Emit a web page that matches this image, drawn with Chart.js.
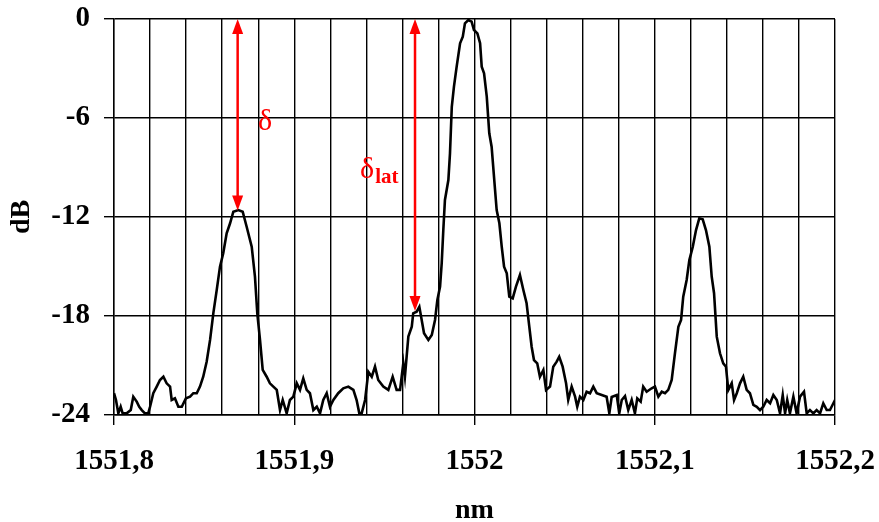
<!DOCTYPE html>
<html>
<head>
<meta charset="utf-8">
<title>Spectre</title>
<script src="https://cdn.jsdelivr.net/npm/chart.js@4.4.1/dist/chart.umd.min.js"></script>
<style>
    body { margin: 0; background: #fff; }
    #wrap { width: 879px; height: 522px; }
</style>
</head>
<body>
<div id="wrap"><canvas id="spectre" width="879" height="522"></canvas></div>
<script>
// longueur d'onde (nm)
const wavelengths = [
    1551.8000, 1551.8011, 1551.8024, 1551.8037, 1551.8048, 1551.8070, 1551.8093, 1551.8107, 1551.8126, 1551.8140,
    1551.8154, 1551.8172, 1551.8190, 1551.8200, 1551.8218, 1551.8237, 1551.8255, 1551.8274, 1551.8292, 1551.8311,
    1551.8320, 1551.8338, 1551.8357, 1551.8376, 1551.8399, 1551.8422, 1551.8440, 1551.8459, 1551.8477, 1551.8495,
    1551.8514, 1551.8533, 1551.8551, 1551.8570, 1551.8588, 1551.8606, 1551.8625, 1551.8644, 1551.8662, 1551.8690,
    1551.8714, 1551.8736, 1551.8764, 1551.8782, 1551.8795, 1551.8810, 1551.8825, 1551.8847, 1551.8865, 1551.8884,
    1551.8903, 1551.8921, 1551.8936, 1551.8958, 1551.8976, 1551.8995, 1551.9014, 1551.9032, 1551.9050, 1551.9069,
    1551.9087, 1551.9106, 1551.9125, 1551.9143, 1551.9161, 1551.9180, 1551.9198, 1551.9217, 1551.9244, 1551.9272,
    1551.9300, 1551.9328, 1551.9346, 1551.9361, 1551.9374, 1551.9393, 1551.9411, 1551.9430, 1551.9448, 1551.9466,
    1551.9494, 1551.9522, 1551.9546, 1551.9568, 1551.9587, 1551.9605, 1551.9614, 1551.9633, 1551.9652, 1551.9660,
    1551.9679, 1551.9694, 1551.9707, 1551.9720, 1551.9744, 1551.9763, 1551.9781, 1551.9794, 1551.9809, 1551.9818,
    1551.9827, 1551.9836, 1551.9855, 1551.9864, 1551.9874, 1551.9886, 1551.9901, 1551.9920, 1551.9935, 1551.9947,
    1551.9966, 1551.9984, 1551.9997, 1552.0016, 1552.0031, 1552.0040, 1552.0053, 1552.0068, 1552.0082, 1552.0095,
    1552.0114, 1552.0123, 1552.0138, 1552.0151, 1552.0164, 1552.0179, 1552.0193, 1552.0212, 1552.0230, 1552.0252,
    1552.0271, 1552.0289, 1552.0304, 1552.0317, 1552.0330, 1552.0348, 1552.0363, 1552.0382, 1552.0397, 1552.0419,
    1552.0437, 1552.0456, 1552.0470, 1552.0489, 1552.0508, 1552.0520, 1552.0539, 1552.0558, 1552.0570, 1552.0585,
    1552.0604, 1552.0622, 1552.0641, 1552.0659, 1552.0678, 1552.0706, 1552.0733, 1552.0748, 1552.0761, 1552.0789,
    1552.0803, 1552.0817, 1552.0835, 1552.0853, 1552.0872, 1552.0890, 1552.0903, 1552.0922, 1552.0936, 1552.0955,
    1552.0983, 1552.1001, 1552.1020, 1552.1039, 1552.1057, 1552.1075, 1552.1094, 1552.1112, 1552.1131, 1552.1146,
    1552.1158, 1552.1177, 1552.1192, 1552.1211, 1552.1229, 1552.1247, 1552.1266, 1552.1284, 1552.1303, 1552.1316,
    1552.1329, 1552.1344, 1552.1362, 1552.1380, 1552.1395, 1552.1408, 1552.1427, 1552.1440, 1552.1455, 1552.1473,
    1552.1491, 1552.1510, 1552.1528, 1552.1547, 1552.1566, 1552.1584, 1552.1602, 1552.1621, 1552.1640, 1552.1658,
    1552.1677, 1552.1695, 1552.1710, 1552.1723, 1552.1735, 1552.1750, 1552.1769, 1552.1787, 1552.1806, 1552.1828,
    1552.1843, 1552.1861, 1552.1880, 1552.1898, 1552.1917, 1552.1935, 1552.1954, 1552.1972, 1552.1991, 1552.2000
];

// puissance relative (dB)
const powerDb = [
    -22.68, -23.09, -23.90, -23.50, -23.90, -23.90, -23.70, -22.89, -23.19, -23.50,
    -23.70, -23.90, -23.90, -23.50, -22.68, -22.28, -21.88, -21.68, -22.08, -22.28,
    -23.09, -22.99, -23.50, -23.50, -22.99, -22.89, -22.68, -22.68, -22.28, -21.68,
    -20.77, -19.45, -17.84, -16.42, -15.01, -14.20, -12.99, -12.38, -11.68, -11.58,
    -11.68, -12.59, -13.80, -15.62, -17.84, -19.45, -21.27, -21.68, -22.08, -22.28,
    -22.48, -23.70, -23.09, -23.90, -23.09, -22.89, -22.08, -22.48, -21.78, -22.48,
    -22.68, -23.70, -23.50, -23.90, -23.09, -22.68, -23.50, -23.09, -22.68, -22.38,
    -22.28, -22.48, -23.09, -23.90, -23.90, -23.09, -21.38, -21.68, -21.07, -21.88,
    -22.28, -22.48, -21.68, -22.48, -22.48, -20.87, -21.68, -19.25, -18.65, -17.84,
    -17.74, -17.44, -18.24, -19.05, -19.45, -19.15, -18.24, -17.03, -16.22, -14.81,
    -12.79, -10.97, -9.76, -8.14, -5.32, -4.10, -2.89, -1.47, -1.07, -0.26,
    -0.06, -0.16, -0.67, -0.87, -1.47, -2.89, -3.29, -4.71, -6.93, -7.74,
    -10.36, -11.58, -12.38, -13.80, -15.01, -15.41, -16.83, -16.93, -16.22, -15.52,
    -16.42, -17.23, -18.65, -19.86, -20.67, -20.87, -21.68, -21.27, -22.48, -22.28,
    -21.07, -20.77, -20.47, -21.07, -22.08, -23.09, -22.28, -22.89, -23.50, -22.89,
    -23.09, -22.59, -22.68, -22.28, -22.68, -22.79, -22.89, -23.90, -22.91, -22.79,
    -23.90, -23.09, -22.85, -23.70, -23.09, -23.90, -22.99, -23.19, -22.28, -22.59,
    -22.38, -22.28, -22.89, -22.59, -22.68, -22.48, -21.88, -20.26, -18.65, -18.24,
    -16.83, -15.82, -14.61, -13.80, -12.79, -12.08, -12.14, -12.79, -13.80, -15.62,
    -16.62, -19.25, -20.26, -20.87, -21.07, -22.48, -22.08, -23.09, -22.68, -22.08,
    -21.68, -22.48, -22.68, -23.39, -23.50, -23.70, -23.50, -23.09, -23.29, -22.79,
    -23.09, -23.90, -22.79, -23.90, -23.09, -23.90, -22.89, -23.90, -22.89, -22.59,
    -23.90, -23.70, -23.90, -23.70, -23.90, -23.29, -23.70, -23.70, -23.29, -23.09
];

// graduations de l'axe des x (une ligne verticale tous les 0,02 nm)
const xTickValues = [
    1551.80, 1551.82, 1551.84, 1551.86, 1551.88, 1551.90, 1551.92, 1551.94, 1551.96, 1551.98,
    1552.00, 1552.02, 1552.04, 1552.06, 1552.08, 1552.10, 1552.12, 1552.14, 1552.16, 1552.18, 1552.20
];
const xTickLabels = [
    '1551,8', '', '', '', '', '1551,9', '', '', '', '',
    '1552', '', '', '', '', '1552,1', '', '', '', '', '1552,2'
];
const yTickValues = [-24, -18, -12, -6, 0];
const yTickLabels = ['-24', '-18', '-12', '-6', '0'];

// flèches rouges (delta et delta lat)
const arrowX = [1551.8686, 1551.9670];
const arrowTop = [0, 0];
const arrowBottom = [-11.6, -17.7];
const markText = ['\u03b4', '\u03b4'];
const markSub = ['', 'lat'];
const markX = [1551.8799, 1551.9365];
const markY = [-6.73, -9.64];

const serif = "'Liberation Serif', 'Times New Roman', serif";

// plugin pour dessiner les flèches et les lettres
const arrowPlugin = {
    id: 'fleches',
    afterDatasetsDraw(chart) {
        const ctx = chart.ctx;
        const xs = chart.scales.x;
        const ys = chart.scales.y;
        ctx.save();
        ctx.strokeStyle = '#ff0000';
        ctx.fillStyle = '#ff0000';
        ctx.lineWidth = 2.5;
        const headLen = 15, headW = 5.5;
        arrowX.forEach((v, i) => {
            const x = xs.getPixelForValue(v);
            const y1 = ys.getPixelForValue(arrowTop[i]);
            const y2 = ys.getPixelForValue(arrowBottom[i]);
            ctx.beginPath();
            ctx.moveTo(x, y1 + headLen - 1);
            ctx.lineTo(x, y2 - headLen + 1);
            ctx.stroke();
            // pointe du haut
            ctx.beginPath();
            ctx.moveTo(x, y1);
            ctx.lineTo(x - headW, y1 + headLen);
            ctx.lineTo(x + headW, y1 + headLen);
            ctx.closePath();
            ctx.fill();
            // pointe du bas
            ctx.beginPath();
            ctx.moveTo(x, y2);
            ctx.lineTo(x - headW, y2 - headLen);
            ctx.lineTo(x + headW, y2 - headLen);
            ctx.closePath();
            ctx.fill();
        });
        ctx.textBaseline = 'alphabetic';
        ctx.textAlign = 'left';
        markText.forEach((t, i) => {
            const x = xs.getPixelForValue(markX[i]);
            const y = ys.getPixelForValue(markY[i]);
            ctx.font = '30px ' + serif;
            ctx.fillText(t, x, y);
            if (markSub[i]) {
                const w = ctx.measureText(t).width;
                ctx.font = 'bold 21px ' + serif;
                ctx.fillText(markSub[i], x + w + 1, y + 5);
            }
        });
        ctx.restore();
    }
};

// on enlève les marges automatiques pour fixer la zone de tracé
function noPadding(scale) {
    scale.paddingTop = 0;
    scale.paddingBottom = 0;
    scale.paddingLeft = 0;
    scale.paddingRight = 0;
}

const ctx = document.getElementById('spectre').getContext('2d');

new Chart(ctx, {
    type: 'line',
    data: {
        labels: wavelengths,
        datasets: [{
            data: wavelengths.map((w, i) => ({ x: w, y: powerDb[i] })),
            borderColor: '#000',
            borderWidth: 2.6,
            pointRadius: 0,
            tension: 0,
            fill: false
        }]
    },
    options: {
        responsive: false,
        animation: false,
        devicePixelRatio: 1,
        layout: { padding: { left: 0, right: 44, top: 19, bottom: 0 } },
        plugins: {
            legend: { display: false },
            tooltip: { enabled: false }
        },
        scales: {
            x: {
                type: 'linear',
                min: 1551.8,
                max: 1552.2,
                afterBuildTicks: scale => {
                    scale.ticks = xTickValues.map(v => ({ value: v }));
                },
                afterFit: scale => { scale.height = 107; noPadding(scale); },
                ticks: {
                    autoSkip: false,
                    maxRotation: 0,
                    padding: 19,
                    color: '#000',
                    font: { family: serif, size: 29, weight: 'bold' },
                    callback: (value, index) => xTickLabels[index]
                },
                grid: {
                    color: '#000',
                    lineWidth: 1.4,
                    tickLength: 10,
                    tickColor: c => xTickLabels[c.index] ? '#000' : 'rgba(0,0,0,0)'
                },
                border: { color: '#000', width: 1.4 },
                title: {
                    display: true,
                    text: 'nm',
                    color: '#000',
                    padding: { top: 0, bottom: -6 },
                    font: { family: serif, size: 28, weight: 'bold' }
                }
            },
            y: {
                min: -24,
                max: 0,
                afterBuildTicks: scale => {
                    scale.ticks = yTickValues.map(v => ({ value: v }));
                },
                afterFit: scale => { scale.width = 114; noPadding(scale); },
                ticks: {
                    padding: 14,
                    color: '#000',
                    font: { family: serif, size: 29, weight: 'bold' },
                    callback: (value, index) => yTickLabels[index]
                },
                grid: {
                    color: '#000',
                    lineWidth: 1.4,
                    tickLength: 10,
                    tickColor: '#000'
                },
                border: { color: '#000', width: 1.4 },
                title: {
                    display: true,
                    text: 'dB',
                    color: '#000',
                    padding: { top: 5, bottom: 0 },
                    font: { family: serif, size: 28, weight: 'bold' }
                }
            }
        }
    },
    plugins: [arrowPlugin]
});
</script>
</body>
</html>
